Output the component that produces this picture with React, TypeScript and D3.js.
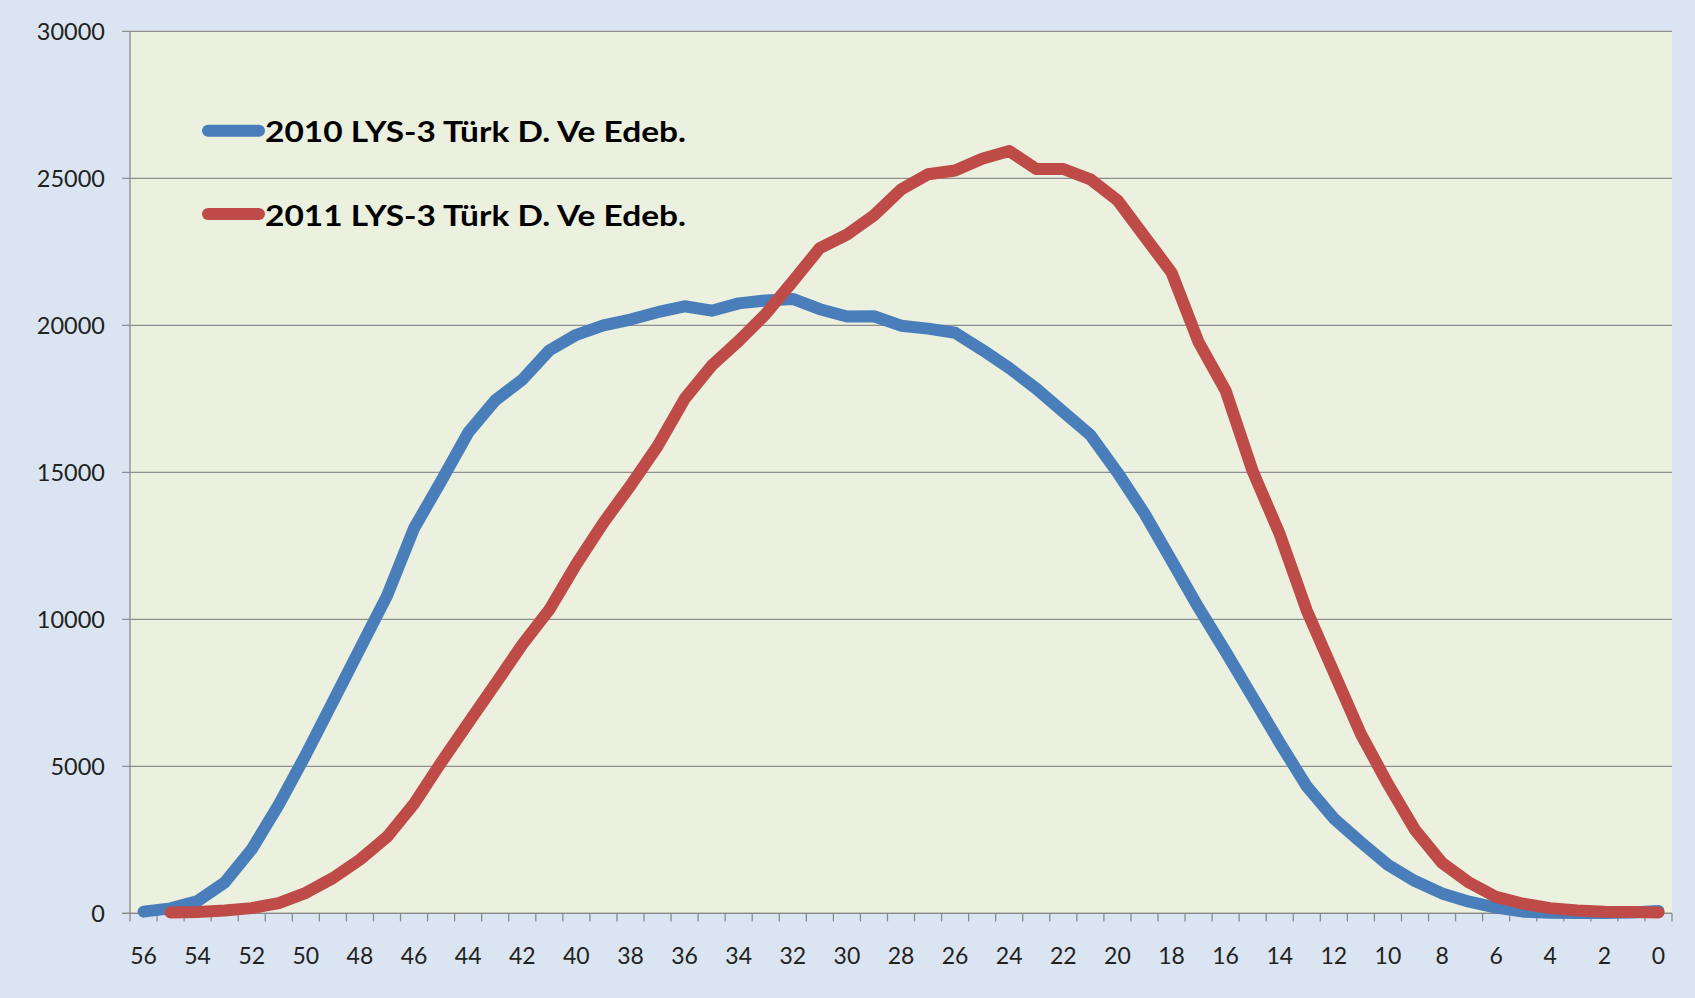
import React, { useLayoutEffect } from "react";
import * as d3 from "d3";

const categories: number[] = [56,55,54,53,52,51,50,49,48,47,46,45,44,43,42,41,40,39,38,37,36,35,34,33,32,31,30,29,28,27,26,25,24,23,22,21,20,19,18,17,16,15,14,13,12,11,10,9,8,7,6,5,4,3,2,1,0];

const series2010: (number | null)[] = [60,170,420,1050,2180,3700,5400,7200,9000,10800,13100,14700,16350,17450,18150,19150,19680,20000,20200,20450,20650,20500,20750,20850,20900,20550,20300,20310,19990,19890,19750,19170,18550,17850,17060,16270,15000,13600,12000,10400,8900,7350,5800,4320,3230,2420,1650,1100,680,400,200,60,20,10,10,30,80];

const series2011: (number | null)[] = [null,30,50,100,180,350,700,1200,1830,2600,3730,5130,6470,7800,9140,10330,11880,13290,14550,15890,17500,18630,19470,20390,21500,22630,23090,23740,24620,25140,25270,25670,25930,25320,25320,24970,24260,23030,21800,19430,17780,15040,12900,10300,8200,6100,4400,2840,1720,1050,560,330,180,100,60,50,30];

const yTicks: number[] = [0,5000,10000,15000,20000,25000,30000];
const xLabels: number[] = [56,54,52,50,48,46,44,42,40,38,36,34,32,30,28,26,24,22,20,18,16,14,12,10,8,6,4,2,0];

const seriesNames: string[] = ["2010 LYS-3 Türk D. Ve Edeb.", "2011 LYS-3 Türk D. Ve Edeb."];
const seriesColors: string[] = ["#4a7ebb", "#be4b48"];

const W = 1695, H = 998;
const plot = { left: 130, right: 1672, top: 31.4, bottom: 913.4 };
const FONT = "Lato, 'Open Sans', sans-serif";

export default function App() {
  useLayoutEffect(() => {
    document.body.style.margin = "0";
    document.body.style.overflow = "hidden";
  }, []);

  const x = d3.scaleBand<number>().domain(categories).range([plot.left, plot.right]).padding(0);
  const y = d3.scaleLinear().domain([0, 30000]).range([plot.bottom, plot.top]);
  const cx = (c: number) => (x(c) as number) + x.bandwidth() / 2;

  const line = d3.line<number | null>()
    .defined((d) => d !== null)
    .x((_, i) => cx(categories[i]))
    .y((d) => y(d as number));

  const boundaries = categories.map((c) => x(c) as number).concat([plot.right]);
  const data = [series2010, series2011];

  return (
    <svg width={W} height={H} style={{ display: "block" }} xmlns="http://www.w3.org/2000/svg">
      <rect x={0} y={0} width={W} height={H} fill="#dbe5f1" />
      <rect x={plot.left} y={plot.top} width={plot.right - plot.left} height={plot.bottom - plot.top} fill="#ebf1de" />
      {yTicks.map((t) => (
        <g key={"g" + t}>
          <line x1={plot.left - 8} x2={plot.right} y1={y(t)} y2={y(t)} stroke="#8f8f8f" strokeWidth={1.3} />
          <text x={105} y={y(t)} dy="0.36em" textAnchor="end" fontFamily={FONT} fontSize={23.5} fill="#222">{t}</text>
        </g>
      ))}
      <line x1={plot.left} x2={plot.left} y1={plot.top} y2={plot.bottom} stroke="#8a8a8a" strokeWidth={1.3} />
      <line x1={plot.left - 8} x2={plot.right} y1={plot.bottom} y2={plot.bottom} stroke="#8a8a8a" strokeWidth={1.3} />
      {boundaries.map((b, i) => (
        <line key={"t" + i} x1={b} x2={b} y1={plot.bottom} y2={plot.bottom + 8} stroke="#8a8a8a" strokeWidth={1.3} />
      ))}
      {xLabels.map((c) => (
        <text key={"x" + c} x={cx(c)} y={964} textAnchor="middle" fontFamily={FONT} fontSize={23} fill="#222">{c}</text>
      ))}
      {data.map((s, i) => (
        <path key={"s" + i} d={line(s) || ""} fill="none" stroke={seriesColors[i]} strokeWidth={12} strokeLinejoin="round" strokeLinecap="round" />
      ))}
      {seriesNames.map((n, i) => {
        const ly = i === 0 ? 130.7 : 214;
        return (
          <g key={"l" + i}>
            <line x1={208} x2={259} y1={ly} y2={ly} stroke={seriesColors[i]} strokeWidth={12} strokeLinecap="round" />
            <text x={265} y={ly + 11.5} fontFamily={FONT} fontWeight="bold" fontSize={29} fill="#000" textLength={421} lengthAdjust="spacingAndGlyphs">{n}</text>
          </g>
        );
      })}
    </svg>
  );
}
